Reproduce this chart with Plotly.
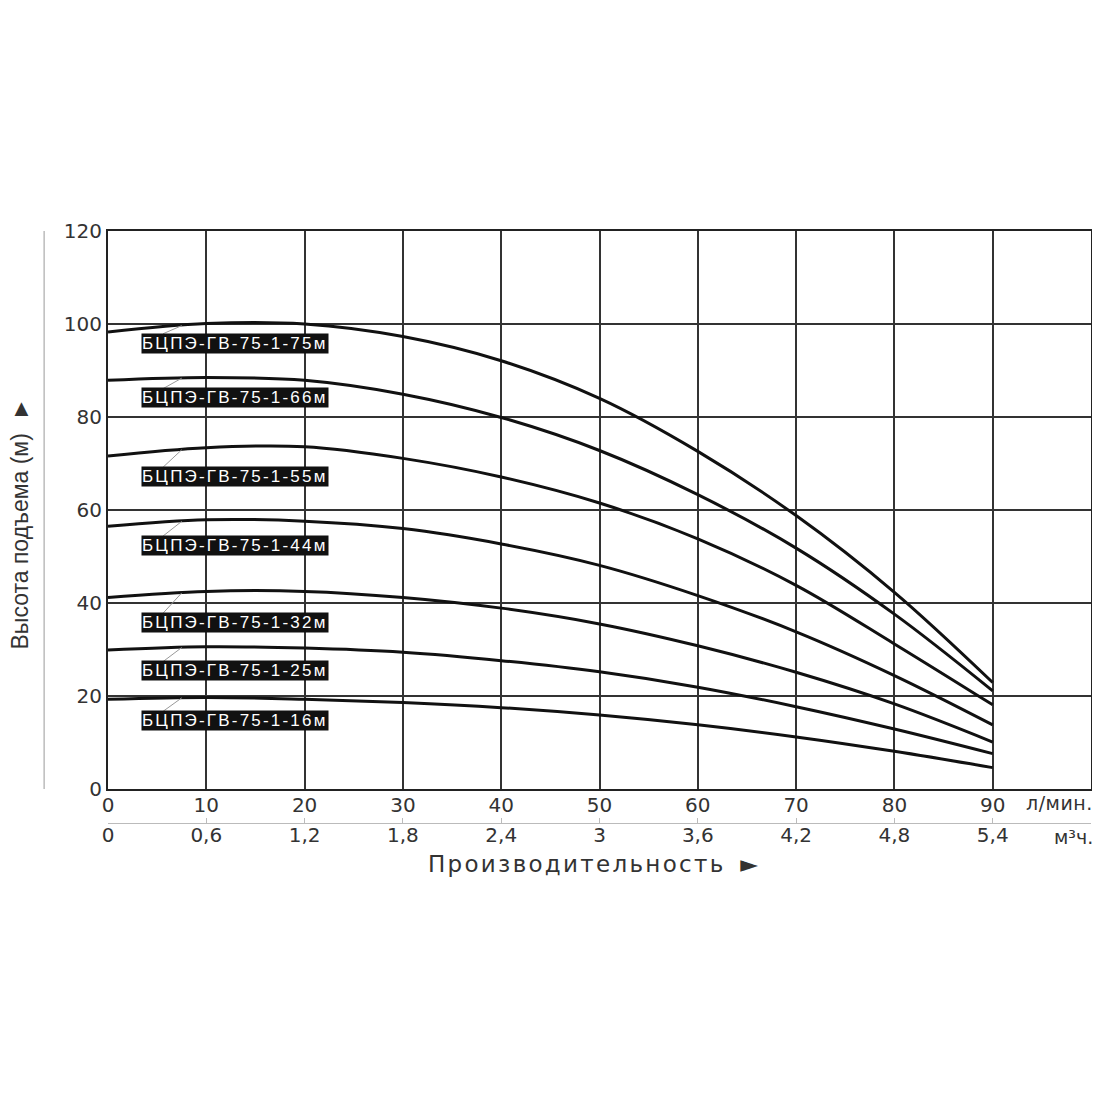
import numpy as np
import plotly.graph_objects as go

# flow, l/min
flow = [0, 10, 20, 30, 40, 50, 60, 70, 80, 90]

# head curves (m) per pump model
head_75 = [98.3, 100.1, 100.0, 97.3, 92.1, 84.0, 72.6, 58.8, 42.3, 22.9]
head_66 = [87.9, 88.5, 87.9, 84.9, 79.9, 72.8, 63.3, 51.8, 37.6, 21.1]
head_55 = [71.6, 73.4, 73.6, 71.1, 67.1, 61.5, 53.8, 43.8, 31.2, 18.1]
head_44 = [56.5, 57.9, 57.6, 56.0, 52.7, 48.1, 41.6, 33.8, 24.4, 13.8]
head_32 = [41.2, 42.5, 42.5, 41.2, 38.9, 35.5, 30.8, 25.1, 18.3, 10.1]
head_25 = [29.9, 30.6, 30.3, 29.4, 27.6, 25.2, 21.9, 17.7, 12.9, 7.6]
head_16 = [19.3, 19.7, 19.3, 18.6, 17.5, 15.9, 13.8, 11.2, 8.1, 4.6]

models = ["БЦПЭ-ГВ-75-1-75м", "БЦПЭ-ГВ-75-1-66м", "БЦПЭ-ГВ-75-1-55м",
          "БЦПЭ-ГВ-75-1-44м", "БЦПЭ-ГВ-75-1-32м", "БЦПЭ-ГВ-75-1-25м",
          "БЦПЭ-ГВ-75-1-16м"]
heads = [head_75, head_66, head_55, head_44, head_32, head_25, head_16]
label_y = [95.9, 84.1, 67.2, 52.4, 35.8, 25.4, 14.7]

# axis ticks
lmin_ticks = [0, 10, 20, 30, 40, 50, 60, 70, 80, 90]
m3_ticks = [0, 0.6, 1.2, 1.8, 2.4, 3, 3.6, 4.2, 4.8, 5.4]
m3_text = ["0", "0,6", "1,2", "1,8", "2,4", "3", "3,6", "4,2", "4,8", "5,4"]

FONT = "Liberation Sans, Arial, sans-serif"
WIDE = "DejaVu Sans, Verdana, sans-serif"
TXT = "#333333"


def spaced(s, px):
    return '<span style="letter-spacing:%spx">%s</span>' % (px, s)


fig = go.Figure()

for name, h in zip(models, heads):
    fig.add_trace(go.Scatter(x=flow, y=h, mode="lines", name=name,
                             line=dict(color="#111111", width=3, shape="spline", smoothing=1),
                             showlegend=False, hoverinfo="skip"))

# leader lines from label to curve
for ly, h in zip(label_y, heads):
    fig.add_trace(go.Scatter(x=[5.6, 7.5], y=[ly + 2.0, float(np.interp(7.5, flow, h))],
                             mode="lines", line=dict(color="#999999", width=1),
                             showlegend=False, hoverinfo="skip"))

# helper trace so the second (m3/h) axis is drawn
fig.add_trace(go.Scatter(x=m3_ticks, y=[0] * len(m3_ticks), xaxis="x2", mode="markers",
                         marker=dict(opacity=0), showlegend=False, hoverinfo="skip"))

for name, ly in zip(models, label_y):
    fig.add_annotation(x=3.4, y=ly, text=spaced(name, 2.2),
                       showarrow=False, xanchor="left",
                       font=dict(family=FONT, size=17, color="white"),
                       bgcolor="#111111", borderpad=0)

fig.add_annotation(x=93.2, xanchor="left", yref="paper", y=0.047, yanchor="middle",
                   text=spaced("л/мин.", 0.5), showarrow=False,
                   font=dict(family=WIDE, size=19, color=TXT))
fig.add_annotation(x=96.0, xanchor="left", yref="paper", y=-0.01, yanchor="middle",
                   text="м³ч.", showarrow=False,
                   font=dict(family=WIDE, size=19, color=TXT))
fig.add_annotation(x=49.3, yref="paper", y=-0.055, yanchor="middle",
                   text=spaced("Производительность", 2.3) + "  ►", showarrow=False,
                   font=dict(family=WIDE, size=23, color=TXT))
fig.add_annotation(xref="paper", x=-0.09, xanchor="center", y=57,
                   text="Высота подъема (м)  ►", textangle=-90, showarrow=False,
                   font=dict(family=FONT, size=23, color=TXT))

fig.add_shape(type="line", xref="paper", yref="y", x0=-0.065, x1=-0.065, y0=0, y1=120.5,
              line=dict(color="#999999", width=1))

fig.update_layout(
    width=1100, height=1100,
    margin=dict(l=100, r=17, t=223, b=277),
    paper_bgcolor="white", plot_bgcolor="white",
    font=dict(family=WIDE, color=TXT),
    xaxis=dict(range=[0, 100], tickvals=lmin_ticks, showgrid=True,
               gridcolor="#333333", gridwidth=1.5, zeroline=False,
               showline=True, mirror=True, linecolor="#222222", linewidth=2,
               ticklabelstandoff=-3,
               tickfont=dict(family=WIDE, size=20, color=TXT)),
    xaxis2=dict(range=[0, 6], overlaying="x", anchor="free", position=0.0133,
                tickvals=m3_ticks, ticktext=m3_text, showgrid=False, zeroline=False,
                showline=True, linecolor="#bbbbbb", linewidth=1,
                ticks="inside", ticklen=5, tickcolor="#bbbbbb",
                ticklabelstandoff=-6,
                tickfont=dict(family=WIDE, size=20, color=TXT)),
    yaxis=dict(range=[0, 120], dtick=20, domain=[0.07, 1], showgrid=True,
               gridcolor="#333333", gridwidth=1.5, zeroline=False,
               showline=True, mirror=True, linecolor="#222222", linewidth=2,
               tickfont=dict(family=WIDE, size=20, color=TXT)),
)

fig.write_html("out.html")
